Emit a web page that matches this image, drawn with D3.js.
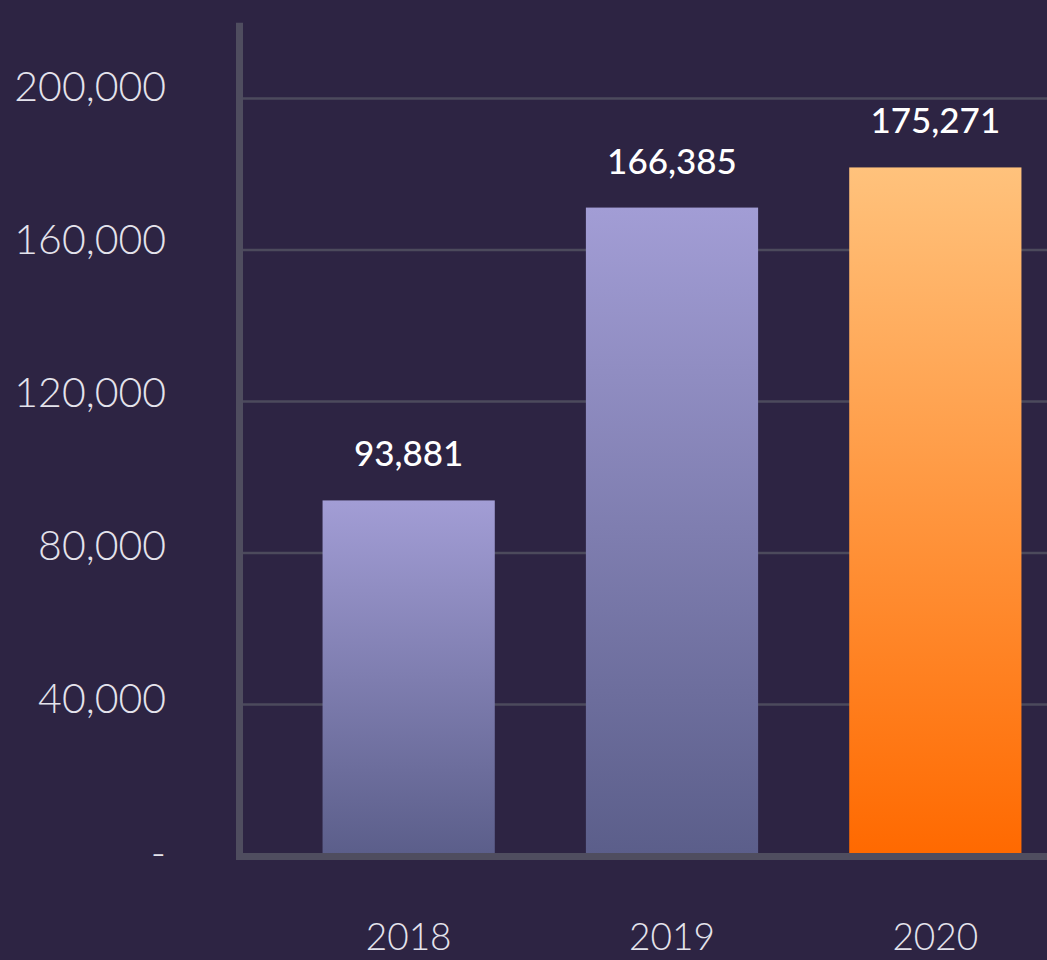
<!DOCTYPE html>
<html>
<head>
<meta charset="utf-8">
<script src="https://cdn.jsdelivr.net/npm/d3@7"></script>
<style>
  html, body { margin: 0; padding: 0; background: #2d2443; }
  svg { display: block; }
</style>
</head>
<body>
<script>
// data
const years = ["2018", "2019", "2020"];
const barValues = [93881, 171200, 181800];
// figures printed above the bars
const labelValues = [93881, 166385, 175271];
const yTicks = [0, 40000, 80000, 120000, 160000, 200000];

const width = 1047, height = 960;

const svg = d3.select("body")
    .append("svg")
    .attr("width", width)
    .attr("height", height);

const defs = svg.append("defs");

// purple gradient for the first two bars, orange for the last
const gPurple = defs.append("linearGradient")
    .attr("id", "gradPurple")
    .attr("x1", 0).attr("y1", 0).attr("x2", 0).attr("y2", 1);
gPurple.append("stop").attr("offset", "0%").attr("stop-color", "#a29dd5");
gPurple.append("stop").attr("offset", "100%").attr("stop-color", "#5b5e8a");

const gOrange = defs.append("linearGradient")
    .attr("id", "gradOrange")
    .attr("x1", 0).attr("y1", 0).attr("x2", 0).attr("y2", 1);
gOrange.append("stop").attr("offset", "0%").attr("stop-color", "#ffc27c");
gOrange.append("stop").attr("offset", "100%").attr("stop-color", "#ff6900");

// scales
const y = d3.scaleLinear()
    .domain([0, 200000])
    .range([856, 98.5]);

// tick labels sit slightly off the gridlines in the source
const yLab = d3.scaleLinear()
    .domain([0, 200000])
    .range([866, 100]);

const x = d3.scaleBand()
    .domain(years)
    .range([277, 1067])
    .paddingInner(0.346)
    .paddingOuter(0.173);

// gridlines
svg.append("g")
    .selectAll("line")
    .data(yTicks.filter(d => d > 0))
    .join("line")
    .attr("x1", 243)
    .attr("x2", width)
    .attr("y1", d => y(d))
    .attr("y2", d => y(d))
    .attr("stroke", "#4c4a5c")
    .attr("stroke-width", 2.5);

// bars
svg.append("g")
    .selectAll("rect")
    .data(years)
    .join("rect")
    .attr("x", d => x(d))
    .attr("y", (d, i) => y(barValues[i]))
    .attr("width", x.bandwidth())
    .attr("height", (d, i) => y(0) - y(barValues[i]))
    .attr("fill", (d, i) => i === 2 ? "url(#gradOrange)" : "url(#gradPurple)");

// axis lines
svg.append("line")
    .attr("x1", 239.5).attr("x2", 239.5)
    .attr("y1", y(220000)).attr("y2", 860)
    .attr("stroke", "#4f4d5f")
    .attr("stroke-width", 7);

svg.append("line")
    .attr("x1", 236).attr("x2", width)
    .attr("y1", 856.5).attr("y2", 856.5)
    .attr("stroke", "#4f4d5f")
    .attr("stroke-width", 7);

// y tick labels
const yAxis = svg.append("g")
    .attr("transform", "translate(166,0)")
    .call(d3.axisLeft(yLab)
        .tickValues(yTicks)
        .tickSize(0)
        .tickPadding(0)
        .tickFormat(d => d === 0 ? "-" : d3.format(",")(d)));
yAxis.select(".domain").remove();
yAxis.selectAll("text")
    .attr("dy", 0)
    .attr("fill", "#e4e3ec")
    .style("font-family", "Lato, 'Open Sans', sans-serif")
    .style("font-weight", 300)
    .style("font-size", "41px");

// year labels
svg.append("g")
    .selectAll("text")
    .data(years)
    .join("text")
    .attr("x", d => x(d) + x.bandwidth() / 2)
    .attr("y", 950)
    .attr("text-anchor", "middle")
    .attr("fill", "#e4e3ec")
    .style("font-family", "Lato, 'Open Sans', sans-serif")
    .style("font-weight", 300)
    .style("font-size", "37px")
    .text(d => d);

// value labels
svg.append("g")
    .selectAll("text")
    .data(years)
    .join("text")
    .attr("x", d => x(d) + x.bandwidth() / 2)
    .attr("y", (d, i) => y(barValues[i]) - 34)
    .attr("text-anchor", "middle")
    .attr("fill", "#ffffff")
    .style("font-family", "Lato, 'Open Sans', sans-serif")
    .style("font-weight", 500)
    .style("font-size", "35px")
    .text((d, i) => d3.format(",")(labelValues[i]));
</script>
</body>
</html>
